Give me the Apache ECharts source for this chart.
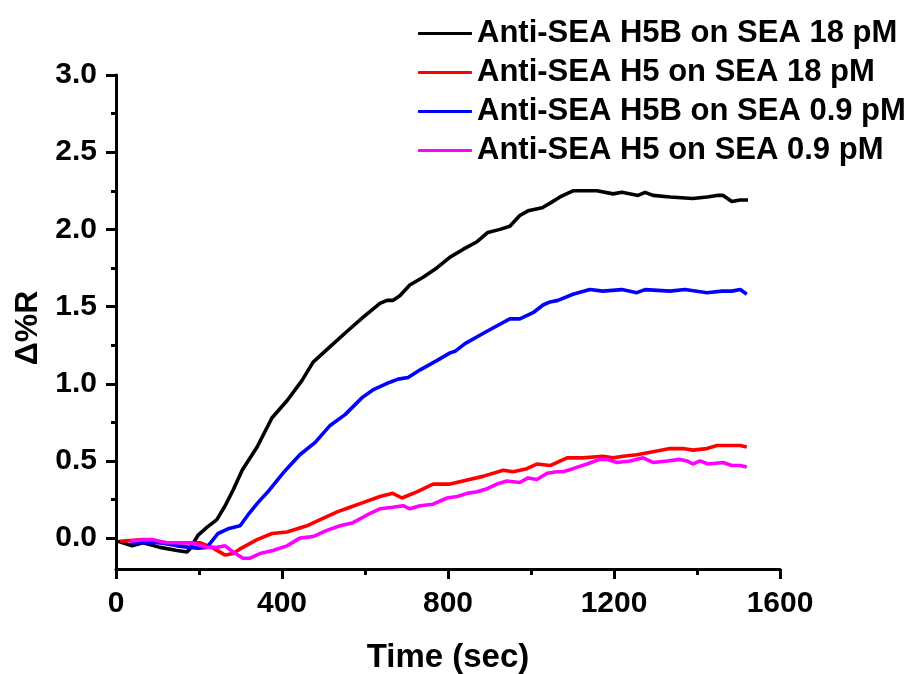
<!DOCTYPE html>
<html>
<head>
<meta charset="utf-8">
<script src="https://cdn.jsdelivr.net/npm/echarts@6/dist/echarts.min.js"></script>
<style>
  html, body { margin: 0; padding: 0; background: #fff; }
  #chart { width: 912px; height: 674px; }
</style>
</head>
<body>
<div id="chart"></div>
<script>
// Series names
const seriesNames = [
  'Anti-SEA H5B on SEA 18 pM',
  'Anti-SEA H5 on SEA 18 pM',
  'Anti-SEA H5B on SEA 0.9 pM',
  'Anti-SEA H5 on SEA 0.9 pM'
];
const seriesColors = ['#000000', '#ff0000', '#0000ff', '#ff00ff'];

// Anti-SEA H5B on SEA 18 pM
const h5b18Time = [5, 39, 65, 106, 147, 171, 178, 198, 219, 243, 263, 282, 304, 340, 376, 412, 448, 475, 516, 557, 595, 636, 653, 667, 684, 708, 740, 773, 805, 836, 870, 896, 925, 949, 973, 993, 1027, 1046, 1070, 1101, 1159, 1198, 1219, 1258, 1275, 1294, 1335, 1390, 1424, 1448, 1463, 1484, 1504, 1523];
const h5b18Values = [-0.02, -0.05, -0.03, -0.06, -0.08, -0.09, -0.07, 0.02, 0.07, 0.12, 0.21, 0.31, 0.44, 0.59, 0.78, 0.89, 1.02, 1.14, 1.24, 1.34, 1.43, 1.52, 1.54, 1.54, 1.57, 1.64, 1.69, 1.75, 1.82, 1.87, 1.92, 1.98, 2.00, 2.02, 2.09, 2.12, 2.14, 2.17, 2.21, 2.25, 2.25, 2.23, 2.24, 2.22, 2.24, 2.22, 2.21, 2.20, 2.21, 2.22, 2.22, 2.18, 2.19, 2.19];

// Anti-SEA H5 on SEA 18 pM
const h518Time = [10, 65, 106, 147, 202, 231, 263, 282, 299, 340, 376, 412, 460, 492, 533, 564, 595, 636, 667, 689, 725, 764, 805, 836, 884, 933, 957, 990, 1014, 1046, 1087, 1125, 1173, 1198, 1222, 1255, 1294, 1335, 1366, 1390, 1424, 1448, 1480, 1504, 1520];
const h518Values = [-0.02, -0.01, -0.03, -0.03, -0.03, -0.06, -0.11, -0.10, -0.07, -0.01, 0.03, 0.04, 0.08, 0.12, 0.17, 0.20, 0.23, 0.27, 0.29, 0.26, 0.30, 0.35, 0.35, 0.37, 0.40, 0.44, 0.43, 0.45, 0.48, 0.47, 0.52, 0.52, 0.53, 0.52, 0.53, 0.54, 0.56, 0.58, 0.58, 0.57, 0.58, 0.60, 0.60, 0.60, 0.59];

// Anti-SEA H5B on SEA 0.9 pM
const h5b09Time = [34, 65, 106, 147, 178, 198, 219, 246, 270, 299, 318, 342, 366, 402, 443, 480, 516, 552, 593, 619, 660, 680, 704, 733, 773, 805, 817, 841, 894, 949, 973, 1005, 1029, 1046, 1065, 1101, 1142, 1173, 1219, 1255, 1275, 1335, 1371, 1424, 1460, 1484, 1504, 1520];
const h5b09Values = [-0.03, -0.03, -0.03, -0.05, -0.06, -0.065, -0.06, 0.03, 0.06, 0.08, 0.15, 0.23, 0.30, 0.42, 0.54, 0.62, 0.73, 0.80, 0.91, 0.96, 1.01, 1.03, 1.04, 1.09, 1.15, 1.20, 1.21, 1.26, 1.34, 1.42, 1.42, 1.46, 1.51, 1.53, 1.54, 1.58, 1.61, 1.60, 1.61, 1.59, 1.61, 1.60, 1.61, 1.59, 1.60, 1.60, 1.61, 1.58];

// Anti-SEA H5 on SEA 0.9 pM
const h509Time = [34, 65, 89, 123, 154, 173, 195, 219, 243, 263, 282, 306, 323, 347, 378, 412, 443, 475, 508, 540, 571, 605, 636, 667, 692, 708, 733, 764, 798, 822, 846, 870, 894, 918, 942, 973, 993, 1014, 1039, 1063, 1077, 1101, 1135, 1166, 1183, 1207, 1239, 1270, 1294, 1328, 1359, 1376, 1390, 1407, 1427, 1463, 1484, 1504, 1520];
const h509Values = [-0.02, -0.01, -0.01, -0.03, -0.03, -0.03, -0.04, -0.06, -0.06, -0.05, -0.09, -0.13, -0.13, -0.10, -0.08, -0.05, 0.00, 0.01, 0.05, 0.08, 0.10, 0.15, 0.19, 0.20, 0.21, 0.19, 0.21, 0.22, 0.26, 0.27, 0.29, 0.30, 0.32, 0.35, 0.37, 0.36, 0.39, 0.38, 0.42, 0.43, 0.43, 0.45, 0.48, 0.51, 0.51, 0.49, 0.50, 0.52, 0.49, 0.50, 0.51, 0.50, 0.48, 0.50, 0.48, 0.49, 0.47, 0.47, 0.46];

// Axis ticks
const xTickLabels = [0, 400, 800, 1200, 1600];
const yTickValues = [0.0, 0.5, 1.0, 1.5, 2.0, 2.5, 3.0];
const yMinorTickValues = [0.25, 0.75, 1.25, 1.75, 2.25, 2.75];

const FONT = '"Liberation Sans", Arial, Helvetica, sans-serif';

function pairs(t, v) {
  return t.map((x, i) => [x, v[i]]);
}

const seriesData = [
  pairs(h5b18Time, h5b18Values),
  pairs(h518Time, h518Values),
  pairs(h5b09Time, h5b09Values),
  pairs(h509Time, h509Values)
];

const chart = echarts.init(document.getElementById('chart'), null, { renderer: 'canvas' });

const axisLineStyle = { color: '#000', width: 3 };

chart.setOption({
  animation: false,
  backgroundColor: '#ffffff',
  grid: { left: 116, right: 132, top: 75, bottom: 105, containLabel: false, outerBoundsMode: 'none' },
  legend: {
    orient: 'vertical',
    left: 418,
    top: 18,
    padding: 0,
    icon: 'roundRect',
    itemWidth: 54,
    itemHeight: 3,
    itemGap: 8,
    data: seriesNames,
    textStyle: { fontFamily: FONT, fontWeight: 'bold', fontSize: 31, color: '#000', lineHeight: 30 }
  },
  xAxis: {
    type: 'value',
    min: 0,
    max: 1600,
    interval: 400,
    name: 'Time (sec)',
    nameLocation: 'middle',
    nameGap: 72,
    nameTextStyle: { fontFamily: FONT, fontWeight: 'bold', fontSize: 33, color: '#000' },
    axisLine: { show: true, onZero: false, lineStyle: axisLineStyle },
    axisTick: { show: true, inside: false, length: 10, lineStyle: axisLineStyle },
    minorTick: { show: true, splitNumber: 2, length: 6, lineStyle: { color: '#000', width: 3 } },
    axisLabel: {
      margin: 20,
      fontFamily: FONT, fontWeight: 'bold', fontSize: 30, color: '#000',
      formatter: v => (xTickLabels.indexOf(v) >= 0 ? String(v) : '')
    },
    splitLine: { show: false }
  },
  yAxis: [
    {
      type: 'value',
      min: -0.2,
      max: 3.0,
      name: 'Δ%R',
      nameLocation: 'middle',
      nameRotate: 90,
      nameGap: 62,
      nameTextStyle: { fontFamily: FONT, fontWeight: 'bold', fontSize: 32, color: '#000', padding: [0, 12, 0, 0] },
      axisLine: { show: true, onZero: false, lineStyle: axisLineStyle },
      axisTick: { show: true, inside: false, length: 10, lineStyle: axisLineStyle, customValues: yTickValues },
      axisLabel: {
        margin: 19,
        customValues: yTickValues,
        fontFamily: FONT, fontWeight: 'bold', fontSize: 30, color: '#000',
        formatter: v => v.toFixed(1)
      },
      splitLine: { show: false }
    },
    {
      type: 'value',
      min: -0.2,
      max: 3.0,
      position: 'left',
      offset: 0,
      axisLine: { show: false },
      axisTick: { show: true, inside: false, length: 5, lineStyle: axisLineStyle, customValues: yMinorTickValues },
      axisLabel: { show: false },
      splitLine: { show: false }
    }
  ],
  series: seriesNames.map((name, i) => ({
    name: name,
    type: 'line',
    data: seriesData[i],
    symbol: 'none',
    smooth: false,
    color: seriesColors[i],
    lineStyle: { color: seriesColors[i], width: 3.6 },
    z: 2 + i
  }))
});
</script>
</body>
</html>
